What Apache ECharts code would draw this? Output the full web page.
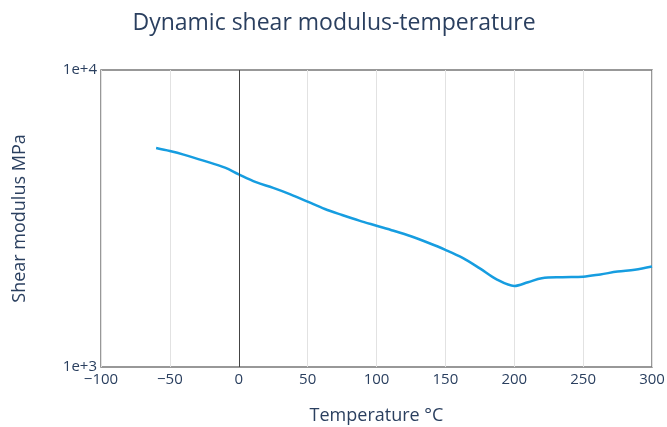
<!DOCTYPE html>
<html>
<head>
<meta charset="utf-8">
<script src="https://cdn.jsdelivr.net/npm/echarts@6/dist/echarts.min.js"></script>
<style>
  html, body { margin: 0; padding: 0; background: #fff; }
  #chart { width: 667px; height: 427px; }
</style>
</head>
<body>
<div id="chart"></div>
<script>
// temperature (°C) and shear modulus (MPa)
const temperature = [-60, -50, -40, -25, -10, 0, 12.5, 25, 37.5, 50, 62.5, 75, 87.5, 100, 112.5, 125, 137.5, 150, 162.5, 175, 187.5, 200, 210, 220, 235, 250, 262.5, 275, 287.5, 300];
const modulus = [5460, 5335, 5190, 4943, 4690, 4450, 4190, 4010, 3815, 3604, 3405, 3250, 3110, 2990, 2875, 2755, 2620, 2480, 2330, 2148, 1970, 1875, 1930, 1991, 2007, 2014, 2050, 2095, 2125, 2178];
const xTicks = [-100, 300, 50];
const yRange = [1000, 10000];

const textColor = '#2a3f5f';
const font = '"Open Sans", "Noto Sans", sans-serif';

var myChart = echarts.init(document.getElementById('chart'));
let option = {
  animation: false,
  title: {
    text: 'Dynamic shear modulus-temperature',
    left: 329,
    top: 7,
    textAlign: 'center',
    textStyle: { fontFamily: font, fontSize: 23, fontWeight: 'normal', color: textColor }
  },
  grid: {
    left: 101, right: 15, top: 70, bottom: 60,
    outerBoundsMode: 'none',
    show: true, borderColor: '#777', borderWidth: 1.5
  },
  xAxis: {
    type: 'value',
    min: xTicks[0], max: xTicks[1], interval: xTicks[2],
    name: 'Temperature °C',
    nameLocation: 'middle',
    nameGap: 40,
    nameTextStyle: { fontFamily: font, fontSize: 18, color: textColor },
    axisLine: { show: false },
    axisTick: { show: false },
    axisLabel: {
      fontFamily: font, fontSize: 15, color: textColor, margin: 5,
      formatter: v => String(v).replace('-', '\u2212')
    },
    splitLine: { show: true, lineStyle: { color: '#e2e2e2', width: 1 } }
  },
  yAxis: {
    type: 'log',
    logBase: 10,
    min: yRange[0], max: yRange[1],
    name: 'Shear modulus MPa',
    nameLocation: 'middle',
    nameGap: 72,
    nameTextStyle: { fontFamily: font, fontSize: 18, color: textColor },
    axisLine: { show: false },
    axisTick: { show: false },
    axisLabel: {
      fontFamily: font, fontSize: 15, color: textColor, margin: 4,
      formatter: v => '1e+' + Math.round(Math.log10(v))
    },
    splitLine: { show: false }
  },
  series: [{
    type: 'line',
    data: temperature.map((t, i) => [t, modulus[i]]),
    smooth: 0.35,
    showSymbol: false,
    lineStyle: { color: '#169de0', width: 2.5 },
    markLine: {
      silent: true,
      symbol: 'none',
      label: { show: false },
      lineStyle: { color: '#444', width: 1, type: 'solid' },
      data: [{ xAxis: 0 }]
    }
  }]
};
myChart.setOption(option);
</script>
</body>
</html>
